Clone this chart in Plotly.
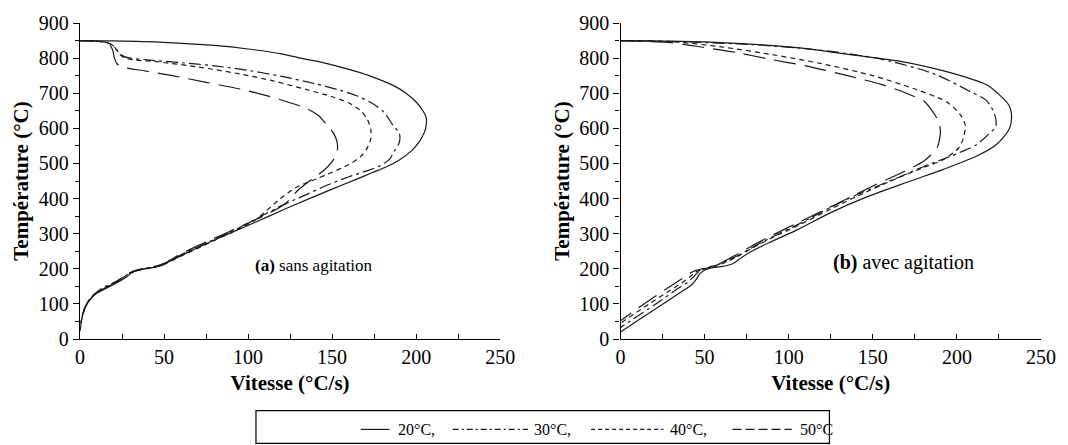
import plotly.graph_objects as go

# ---- (a) sans agitation : vitesse de refroidissement (°C/s) / température (°C)
a20_v = [0, 20, 50, 80, 100, 120, 131, 140, 160, 172, 188, 194, 200, 204, 206, 206, 205, 202, 197, 190, 182, 174, 165, 150, 135, 120, 105, 90, 80, 70, 60, 52, 49, 44, 39, 35, 31, 28, 22, 15, 10, 7, 5, 3.5, 2, 1, 0.4, 0]
a20_T = [850, 849, 845, 836, 826, 812, 800, 792, 768, 750, 718, 700, 675, 650, 630, 610, 590, 563, 535, 510, 490, 474, 456, 427, 397, 366, 334, 303, 282, 260, 237, 218, 210, 204, 200, 196, 190, 178, 160, 143, 130, 118, 107, 95, 75, 55, 35, 22]

a30_v = [0, 8, 14, 18, 21, 23, 26, 30, 40, 60, 80, 100, 120, 140, 155, 165, 175, 181, 186, 190, 190, 187, 184, 178, 170, 160, 148, 135, 120, 104, 90, 80, 70, 60, 52, 48, 43, 38, 34, 31, 27, 21, 14, 10, 7, 5, 3.5, 2, 1, 0.4, 0]
a30_T = [850, 849, 846, 841, 830, 816, 805, 800, 795, 787, 778, 765, 748, 727, 708, 692, 668, 645, 610, 585, 560, 535, 511, 492, 478, 462, 440, 412, 380, 340, 306, 284, 262, 240, 220, 211, 205, 201, 197, 192, 180, 163, 147, 134, 121, 109, 97, 78, 58, 38, 30]

a40_v = [0, 10, 16, 19.5, 22, 24, 27, 32, 45, 70, 95, 115, 135, 150, 160, 167, 171, 173, 173, 171, 167, 160, 150, 140, 128, 118, 104, 90, 80, 70, 60, 52, 48, 43, 38, 34, 30, 26, 20, 13, 9, 6.5, 4.5, 3, 1.8, 0.9, 0.3, 0]
a40_T = [850, 848, 844, 836, 822, 809, 800, 795, 790, 775, 755, 735, 710, 690, 672, 650, 625, 598, 570, 545, 520, 497, 475, 455, 430, 395, 338, 303, 281, 258, 236, 217, 209, 203, 199, 195, 189, 176, 158, 141, 128, 115, 104, 90, 72, 55, 42, 38]

a50_v = [0, 10, 15, 18, 19.5, 20.5, 22, 26, 38, 55, 75, 95, 111, 125, 135, 142, 147, 151, 153, 153, 150, 145, 138, 130, 122, 110, 98, 88, 78, 68, 58, 51, 47, 42, 37, 33, 29, 25, 19, 12, 8, 6, 4, 2.5, 1.5, 0.6, 0]
a50_T = [850, 848, 844, 836, 822, 800, 784, 774, 764, 750, 731, 712, 693, 673, 656, 636, 609, 585, 560, 535, 505, 480, 455, 425, 385, 352, 326, 304, 283, 261, 237, 217, 209, 203, 199, 194, 184, 172, 155, 138, 124, 112, 98, 82, 68, 55, 50]

# ---- (b) avec agitation
b20_v = [0, 50, 104.6, 140, 165, 185, 205.6, 217.6, 225.8, 231, 232.4, 231.4, 223.5, 211.8, 192, 172.5, 145, 125, 104.6, 90, 78, 72, 67, 62, 56, 52, 49, 47, 45, 42, 36, 25, 10, 0]
b20_T = [850, 846, 830, 808, 792, 772, 745, 724, 693, 665, 643, 601, 554, 521, 483, 450, 402, 360, 310, 278, 250, 232, 215, 208, 204, 200, 193, 185, 170, 153, 134, 99, 52, 20]

b30_v = [0, 40, 80, 120, 155, 187, 207, 217.6, 222.5, 223.1, 218.6, 211.8, 205, 195, 182, 170, 155, 140, 125, 105, 90, 78, 70, 64, 58, 52, 49, 46, 44, 40, 33, 21, 0]
b30_T = [850, 846, 838, 822, 797, 754, 707, 679, 639, 606, 582, 554, 538, 518, 495, 470, 440, 410, 375, 325, 290, 260, 238, 225, 212, 204, 198, 190, 180, 162, 140, 100, 33]

b40_v = [0, 30, 60, 90, 118.7, 150, 175, 194, 202, 204.9, 203.9, 201, 192, 180, 168, 155, 140, 125, 105, 90, 78, 70, 63, 57, 52, 47, 44, 42, 38, 30, 17, 0]
b40_T = [850, 847, 832, 810, 785, 750, 712, 675, 639, 610, 573, 544, 511, 488, 465, 438, 405, 370, 322, 288, 258, 236, 220, 207, 200, 195, 190, 180, 165, 140, 100, 45]

b50_v = [0, 30, 50, 70, 88.4, 110, 135, 155, 170, 181, 185, 189, 190.2, 189.5, 188.2, 184, 180.4, 172, 162, 150, 135, 120, 105, 90, 78, 70, 63, 57, 52, 47, 44, 42, 40, 36, 28, 14, 0]
b50_T = [850, 844, 830, 815, 797, 778, 750, 725, 700, 675, 652, 620, 592, 565, 544, 522, 507, 485, 462, 436, 400, 365, 330, 295, 265, 243, 225, 210, 203, 198, 194, 189, 183, 170, 145, 100, 52]

series_names = ["20°C", "30°C", "40°C", "50°C"]
dash_styles = ["solid", "12px,4px,3px,4px", "5px,4px", "22px,9px"]
legend_dash = ["solid", "6px,3px,2px,3px", "4px,3px", "9px,4px"]

panel_a = [(a20_v, a20_T), (a30_v, a30_T), (a40_v, a40_T), (a50_v, a50_T)]
panel_b = [(b20_v, b20_T), (b30_v, b30_T), (b40_v, b40_T), (b50_v, b50_T)]

SERIF = "Liberation Serif, Tinos, Times New Roman, Times, Nimbus Roman, FreeSerif, Noto Serif, DejaVu Serif, serif"
INK = "#1a1a1a"

fig = go.Figure()
for (xa, ya), (xb, yb), name, dash in zip(panel_a, panel_b, series_names, dash_styles):
    fig.add_trace(go.Scatter(x=xa, y=ya, mode="lines", name=name, showlegend=False,
                             line=dict(color=INK, width=1.2, dash=dash, shape="spline", smoothing=0.8),
                             xaxis="x", yaxis="y"))
    fig.add_trace(go.Scatter(x=xb, y=yb, mode="lines", name=name, showlegend=False,
                             line=dict(color=INK, width=1.2, dash=dash, shape="spline", smoothing=0.8),
                             xaxis="x2", yaxis="y2"))

W, H = 1068, 445
ML, MR, MT, MB = 80, 16, 21, 106
PW, PH = W - ML - MR, H - MT - MB
left_dom = [0, 425 / PW]
right_dom = [(626.7 - ML) / PW, 1]

tickfont = dict(family=SERIF, size=20, color="black")
titlefont = dict(family=SERIF, size=21, color="black")


def xax(domain, anchor):
    return dict(domain=domain, anchor=anchor, range=[0, 250], dtick=50, tick0=0,
                showgrid=False, zeroline=False, showline=True, linecolor="black", linewidth=1.3,
                ticks="inside", ticklen=5, tickwidth=1.2, tickcolor="black", tickfont=tickfont,
                minor=dict(dtick=25, ticks="inside", ticklen=5, tickwidth=1.2, tickcolor="black"),
                title=dict(text="<b>Vitesse (°C/s)</b>", font=titlefont, standoff=8))


def yax(anchor):
    return dict(anchor=anchor, domain=[0, 1], range=[0, 900], dtick=100, tick0=0,
                showgrid=False, zeroline=False, showline=True, linecolor="black", linewidth=1.3,
                ticks="outside", ticklen=6, tickwidth=1.2, tickcolor="black", tickfont=tickfont,
                minor=dict(dtick=50, ticks="outside", ticklen=4, tickwidth=1.2, tickcolor="black"),
                title=dict(text="<b>Température (°C)</b>", font=titlefont, standoff=4))


fig.update_layout(
    width=W, height=H, margin=dict(l=ML, r=MR, t=MT, b=MB),
    paper_bgcolor="white", plot_bgcolor="white", showlegend=False,
    font=dict(family=SERIF, color="black"),
    xaxis=xax(left_dom, "y"), yaxis=yax("x"),
    xaxis2=xax(right_dom, "y2"), yaxis2=yax("x2"),
)

fig.add_annotation(x=103, y=209, xref="x", yref="y", xanchor="left", yanchor="middle",
                   text="<b>(a)</b> sans agitation", showarrow=False,
                   font=dict(family=SERIF, size=17, color="black"))
fig.add_annotation(x=125, y=218, xref="x2", yref="y2", xanchor="left", yanchor="middle",
                   text="<b>(b)</b> avec agitation", showarrow=False,
                   font=dict(family=SERIF, size=20, color="black"))


# legend box drawn below both panels (pixel positions converted to paper units)
def px_x(p):
    return (p - ML) / PW


def px_y(p):
    return (MT + PH - p) / PH


box = (258, 411, 838, 445)
fig.add_shape(type="rect", xref="paper", yref="paper",
              x0=px_x(box[0]), x1=px_x(box[2]), y0=px_y(box[3] - 1), y1=px_y(box[1]),
              line=dict(color="black", width=1.2), fillcolor="white")
item_x = [(364, 393, 400), (457, 533, 537), (597, 670, 675), (740, 800, 806)]
leg_y = 430
for (x0, x1, tx), name, dash, last in zip(item_x, series_names, legend_dash, [0, 0, 0, 1]):
    fig.add_shape(type="line", xref="paper", yref="paper",
                  x0=px_x(x0), x1=px_x(x1), y0=px_y(leg_y), y1=px_y(leg_y),
                  line=dict(color=INK, width=1.2, dash=dash))
    fig.add_annotation(x=px_x(tx), y=px_y(leg_y), xref="paper", yref="paper",
                       xanchor="left", yanchor="middle", showarrow=False,
                       text=name + ("" if last else ","),
                       font=dict(family=SERIF, size=16, color="black"))

fig.write_html("out.html")
